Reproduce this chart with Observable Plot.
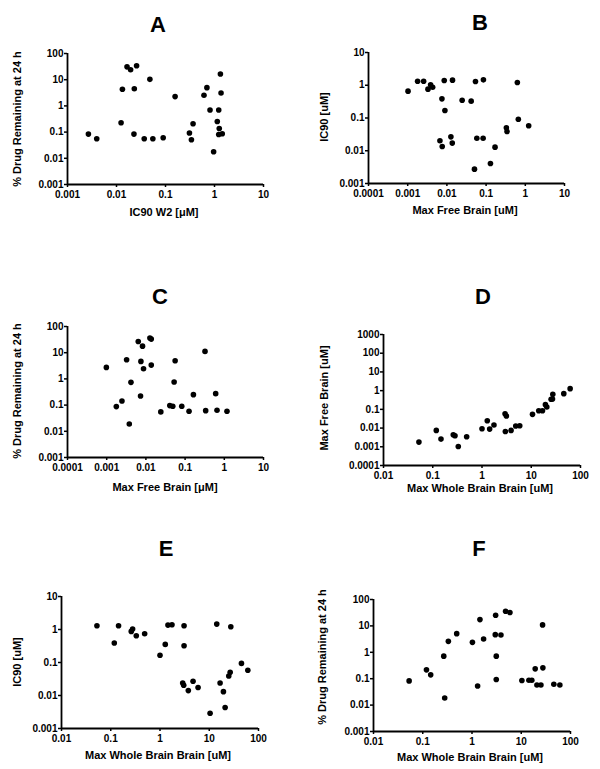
<!DOCTYPE html>
<html><head><meta charset="utf-8">
<script src="https://cdn.jsdelivr.net/npm/d3@7"></script>
<script src="https://cdn.jsdelivr.net/npm/@observablehq/plot@0.6"></script>
<style>
body{margin:0;background:#fff;}
#root{position:relative;width:600px;height:769px;overflow:hidden;font-family:"Liberation Sans",Arial,sans-serif;font-weight:bold;color:#000;background:#fff;}
.abs{position:absolute;white-space:nowrap;line-height:1;}
.title{font-size:22px;transform:translate(-50%,-50%);}
.xlab{font-size:11px;transform:translate(-50%,-50%);}
.ylab{font-size:11px;transform:translate(-50%,-50%) rotate(-90deg);}
</style></head><body><div id="root"></div><script>
// ---- data ----
const xTicks3 = [0.001, 0.01, 0.1, 1, 10];
const xTicks4 = [0.0001, 0.001, 0.01, 0.1, 1, 10];
const xTicksW = [0.01, 0.1, 1, 10, 100];
const yTicksPct = [0.001, 0.01, 0.1, 1, 10, 100];
const yTicksIC = [0.001, 0.01, 0.1, 1, 10];
const yTicksFree = [0.0001, 0.001, 0.01, 0.1, 1, 10, 100, 1000];

const titles = ["A", "B", "C", "D", "E", "F"];
const xLabels = ["IC90 W2 [\u03BCM]", "Max Free Brain [uM]", "Max Free Brain [\u03BCM]", "Max Whole Brain Brain [uM]", "Max Whole Brain Brain [uM]", "Max Whole Brain Brain [uM]"];
const yLabels = ["% Drug Remaining at 24 h", "IC90 [uM]", "% Drug Remaining at 24 h", "Max Free Brain [uM]", "IC90 [uM]", "% Drug Remaining at 24 h"];

const xA = [0.00267, 0.00395, 0.0124, 0.0132, 0.0164, 0.0194, 0.0257, 0.0231, 0.0227, 0.0368, 0.048, 0.0552, 0.0897, 0.157, 0.308, 0.338, 0.365, 0.61, 0.70, 0.81, 0.96, 1.14, 1.22, 1.25, 1.22, 1.32, 1.36, 1.44];
const yA = [0.084, 0.056, 0.226, 4.3, 31, 24, 34, 4.5, 0.084, 0.056, 10.3, 0.056, 0.061, 2.26, 0.092, 0.051, 0.207, 2.54, 4.97, 0.70, 0.0179, 0.254, 0.70, 0.138, 0.081, 16.4, 3.12, 0.086];

const xB = [0.00102, 0.00179, 0.00255, 0.00329, 0.00384, 0.00433, 0.00747, 0.00855, 0.0089, 0.00664, 0.0076, 0.01265, 0.0137, 0.0139, 0.0245, 0.0416, 0.0536, 0.0505, 0.058, 0.0855, 0.084, 0.129, 0.169, 0.329, 0.342, 0.627, 0.664, 1.22];
const yB = [0.66, 1.33, 1.33, 0.76, 1.03, 0.87, 0.385, 1.40, 0.17, 0.0201, 0.0135, 0.0266, 0.0171, 1.43, 0.35, 0.327, 1.30, 0.00274, 0.0242, 1.46, 0.0242, 0.00408, 0.0129, 0.050, 0.0387, 1.21, 0.092, 0.0577];

const xC = [0.00098, 0.00176, 0.00245, 0.00322, 0.00377, 0.00416, 0.00638, 0.00746, 0.0073, 0.0082, 0.0087, 0.01265, 0.0137, 0.0137, 0.024, 0.0407, 0.0485, 0.0525, 0.0557, 0.0822, 0.126, 0.163, 0.322, 0.335, 0.603, 0.652, 1.17];
const yC = [2.75, 0.0875, 0.144, 5.38, 0.019, 0.74, 26.8, 4.66, 0.223, 17.8, 2.44, 36, 33, 3.37, 0.055, 0.0955, 0.09, 0.76, 4.93, 0.09, 0.058, 0.25, 11.2, 0.0615, 0.273, 0.0634, 0.058];

const xD = [0.0524, 0.118, 0.147, 0.261, 0.283, 0.33, 0.488, 1.0, 1.28, 1.43, 1.75, 2.94, 3.13, 2.98, 3.89, 4.84, 5.84, 10.6, 14.2, 16.9, 19.4, 20.7, 25.3, 27.4, 27.0, 45.8, 61.6];
const yD = [0.00178, 0.0075, 0.00258, 0.0044, 0.0039, 0.00104, 0.00344, 0.0092, 0.0247, 0.0088, 0.0145, 0.0586, 0.044, 0.0066, 0.0075, 0.0128, 0.0133, 0.054, 0.085, 0.085, 0.178, 0.133, 0.344, 0.637, 0.358, 0.69, 1.28];

const xE = [0.0524, 0.118, 0.144, 0.261, 0.278, 0.33, 0.488, 1.0, 1.28, 1.45, 1.75, 3.08, 3.08, 2.89, 3.03, 3.76, 4.69, 5.93, 10.4, 14.2, 16.6, 19.4, 21.0, 24.9, 26.6, 27.4, 45.1, 60.7];
const yE = [1.30, 0.388, 1.30, 0.875, 1.03, 0.647, 0.745, 0.165, 0.354, 1.36, 1.39, 1.30, 0.323, 0.024, 0.0204, 0.0141, 0.027, 0.0174, 0.0029, 1.46, 0.024, 0.0131, 0.00432, 0.039, 0.0505, 1.21, 0.094, 0.058];

const xF = [0.0529, 0.119, 0.145, 0.267, 0.279, 0.331, 0.489, 1.02, 1.30, 1.45, 1.72, 3.02, 2.97, 3.11, 3.11, 3.87, 4.81, 5.89, 10.3, 14.3, 16.4, 19.2, 20.8, 25.1, 27.1, 27.5, 45.9, 60.8];
const yF = [0.0824, 0.216, 0.14, 0.716, 0.0186, 2.6, 5.08, 2.38, 0.053, 17.3, 3.18, 25.4, 4.66, 0.716, 0.0927, 4.52, 36, 32, 0.085, 0.0875, 0.0875, 0.236, 0.058, 0.058, 10.9, 0.258, 0.0615, 0.058];

// ---- layout ----
const FONT = '"Liberation Sans", Arial, Helvetica, sans-serif';
const root = document.getElementById("root");

function addText(cls, txt, x, y) {
  const d = document.createElement("div");
  d.className = "abs " + cls;
  d.textContent = txt;
  d.style.left = x + "px";
  d.style.top = y + "px";
  root.appendChild(d);
}

function panel(p) {
  const mL = 60, mR = 16, mT = 8, mB = 22;
  const w = Math.round(p.R - p.L) + mL + mR;
  const h = Math.round(p.B - p.T) + mT + mB;
  const data = p.x.map((v, i) => ({x: v, y: p.y[i]}));
  const x0 = p.xTicks[0], x1 = p.xTicks[p.xTicks.length - 1];
  const y0 = p.yTicks[0], y1 = p.yTicks[p.yTicks.length - 1];
  const chart = Plot.plot({
    width: w, height: h,
    marginLeft: mL, marginRight: mR, marginTop: mT, marginBottom: mB,
    style: {fontFamily: FONT, fontSize: "10px", fontWeight: "bold", color: "#000", background: "transparent", overflow: "visible"},
    x: {type: "log", domain: [x0, x1]},
    y: {type: "log", domain: [y0, y1]},
    marks: [
      Plot.axisX({ticks: p.xTicks, tickFormat: d => String(d), tickSize: 3, tickPadding: 3, strokeWidth: 1.5, label: null}),
      Plot.axisY({ticks: p.yTicks, tickFormat: d => String(d), tickSize: 3, tickPadding: 1, strokeWidth: 1.5, label: null}),
      Plot.ruleY([y0], {stroke: "#000", strokeWidth: 1.8}),
      Plot.ruleX([x0], {stroke: "#000", strokeWidth: 1.8}),
      Plot.dot(data, {x: "x", y: "y", r: 2.8, fill: "#000", stroke: "none"})
    ]
  });
  chart.style.position = "absolute";
  chart.style.left = Math.round(p.L - mL) + "px";
  chart.style.top = Math.round(p.T - mT) + "px";
  root.appendChild(chart);
  addText("title", p.title, p.tx, p.ty);
  addText("xlab", p.xLabel, p.xlx, p.xly);
  addText("ylab", p.yLabel, p.ylx, p.yly);
}

const panels = [
  {x: xA, y: yA, xTicks: xTicks3, yTicks: yTicksPct, L: 67, R: 263, T: 53, B: 184, tx: 158, ty: 25, xlx: 164, xly: 212, ylx: 17, yly: 119},
  {x: xB, y: yB, xTicks: xTicks4, yTicks: yTicksIC, L: 368, R: 564, T: 52, B: 183, tx: 480, ty: 23, xlx: 465, xly: 210, ylx: 324, yly: 117},
  {x: xC, y: yC, xTicks: xTicks4, yTicks: yTicksPct, L: 67, R: 263, T: 326, B: 457, tx: 160, ty: 297, xlx: 165, xly: 487, ylx: 17, yly: 391},
  {x: xD, y: yD, xTicks: xTicksW, yTicks: yTicksFree, L: 383, R: 580, T: 334, B: 465, tx: 483, ty: 297, xlx: 480, xly: 488, ylx: 324, yly: 398},
  {x: xE, y: yE, xTicks: xTicksW, yTicks: yTicksIC, L: 61, R: 258, T: 596, B: 728, tx: 166, ty: 549, xlx: 158, xly: 755, ylx: 17, yly: 662},
  {x: xF, y: yF, xTicks: xTicksW, yTicks: yTicksPct, L: 373, R: 570, T: 599, B: 731, tx: 479, ty: 549, xlx: 470, xly: 757, ylx: 322, yly: 657}
];
panels.forEach((p, i) => panel({...p, title: titles[i], xLabel: xLabels[i], yLabel: yLabels[i]}));
</script></body></html>
